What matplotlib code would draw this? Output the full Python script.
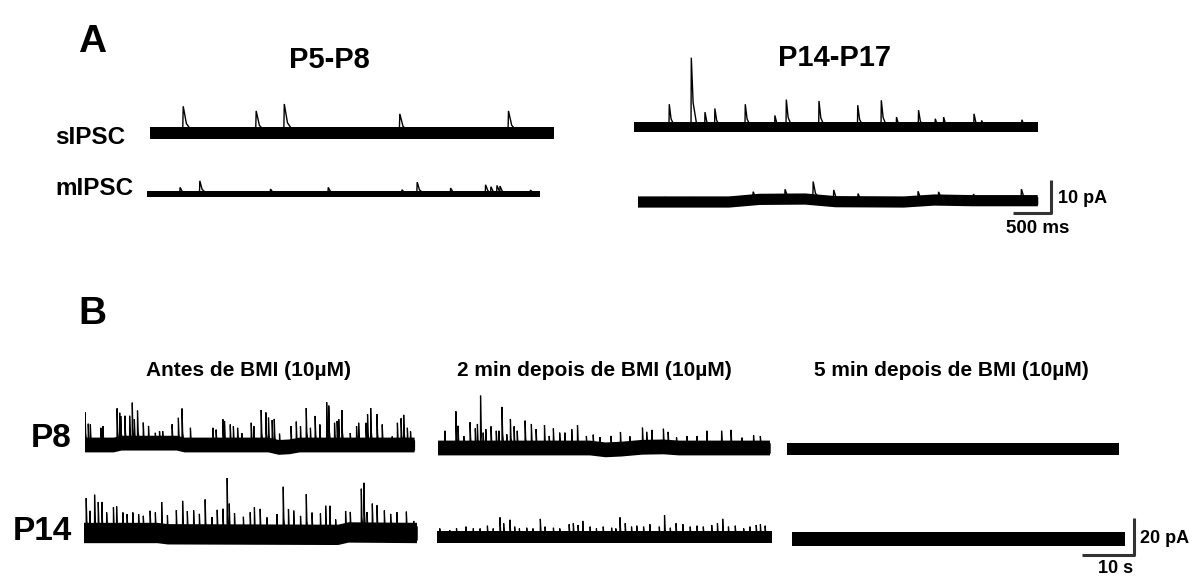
import matplotlib.pyplot as plt
import numpy as np

plt.rcParams['font.family'] = ['Liberation Sans', 'DejaVu Sans']
plt.rcParams['font.weight'] = 'bold'
plt.rcParams['hatch.linewidth'] = 1.0
plt.rcParams['hatch.color'] = 'black'

W, H = 1195, 583

# ---- Panel A: events as (time s, amplitude pA) ----
a_s_p5 = [(0.43, 8.1), (1.39, 6.7), (1.76, 8.8), (3.28, 5.8), (4.71, 6.7)]
a_m_p5 = [(0.43, 2.0), (0.69, 4.0), (1.62, 1.5), (2.38, 2.0), (3.35, 1.3), (3.55, 3.6),
          (3.99, 1.8), (4.45, 2.8), (4.52, 2.2), (4.60, 2.6), (4.64, 2.4), (5.04, 1.2)]
a_s_p14 = [(0.46, 6.9), (0.75, 21.0), (0.93, 4.5), (1.06, 5.6), (1.46, 6.9), (1.85, 3.5),
           (2.00, 8.3), (2.43, 7.9), (2.94, 6.6), (3.25, 8.1), (3.45, 3.0), (3.74, 5.1),
           (3.96, 2.5), (4.07, 3.0), (4.47, 4.0), (4.57, 2.0), (5.10, 2.2)]
a_m_p14 = [(0.35, 1.5), (0.70, 1.5), (0.95, 1.4), (1.20, 1.5), (1.51, 2.5), (1.93, 3.0),
           (2.30, 5.5), (2.57, 3.5), (2.89, 2.5), (3.68, 3.0), (3.95, 2.5), (4.41, 2.0),
           (5.04, 3.5)]

# baseline drift (time s, offset pA)
a_m_p14_drift_t = [0, 1.2, 1.6, 2.2, 2.6, 3.5, 3.9, 4.4, 5.26]
a_m_p14_drift_v = [0, 0, 0.8, 0.9, 0.1, 0, 0.6, 0.4, 0.4]

# ---- Panel B ----
b_p8_pre = [(0.0, 17.6), (0.6, 11.5), (1.0, 11.1), (3.0, 9.3), (3.4, 10.2), (6.1, 19.4),
            (6.6, 16.7), (6.8, 14.8), (7.6, 14.8), (8.5, 14.8), (9.0, 21.9), (9.4, 13.0),
            (10.0, 17.6), (11.1, 11.1), (12.1, 9.3), (13.4, 5.6), (14.2, 6.5), (14.8, 6.5),
            (16.6, 10.2), (17.8, 13.9), (18.5, 19.4), (20.1, 9.3), (24.4, 9.3), (25.0, 8.3),
            (26.3, 13.9), (26.6, 13.0), (27.7, 11.1), (28.3, 10.2), (29.1, 9.3), (29.9, 6.5),
            (31.7, 12.0), (32.2, 10.2), (33.6, 18.9), (34.5, 17.6), (35.0, 14.8), (35.7, 13.9),
            (36.1, 14.8), (37.1, 7.4), (39.3, 11.1), (40.3, 13.0), (41.1, 10.2), (42.2, 20.0),
            (43.0, 9.3), (43.9, 15.7), (44.8, 11.1), (46.1, 23.1), (46.5, 21.3), (47.6, 12.0),
            (48.1, 13.0), (48.4, 13.9), (49.0, 18.9), (50.6, 6.5), (51.8, 10.2), (52.2, 12.0),
            (53.6, 12.0), (53.9, 16.7), (54.5, 20.0), (55.7, 16.7), (56.7, 11.1), (58.6, 4.6),
            (59.6, 12.0), (60.3, 14.4), (60.8, 16.3), (61.5, 9.3), (62.1, 7.4)]
b_p8_pre_drift_t = [0, 5.5, 7.0, 17.5, 19.0, 35.0, 37.0, 39.0, 41.0, 62.9]
b_p8_pre_drift_v = [0, 0, 1.0, 1.0, 0, 0, -1.3, -1.0, 0, 0]

b_p14_pre = [(0.4, 18.9), (1.1, 12.0), (2.0, 20.7), (2.7, 16.7), (3.4, 16.7), (4.3, 11.1),
             (5.6, 13.9), (6.2, 14.4), (7.4, 11.1), (8.2, 10.2), (9.3, 11.1), (10.4, 10.2),
             (11.3, 9.3), (12.6, 12.0), (13.6, 11.1), (14.8, 17.0), (15.9, 10.2), (17.6, 13.0),
             (18.8, 18.1), (19.7, 12.6), (20.9, 13.0), (22.0, 11.1), (23.1, 18.9), (24.4, 9.3),
             (25.4, 13.3), (26.5, 13.9), (27.3, 31.5), (27.7, 16.7), (28.7, 11.5), (30.4, 9.6),
             (31.7, 12.0), (32.5, 14.8), (33.6, 13.9), (34.9, 9.3), (36.8, 11.1), (38.0, 25.9),
             (39.0, 13.9), (40.0, 13.0), (41.3, 10.2), (42.4, 21.9), (43.5, 12.0), (45.1, 11.5),
             (46.1, 15.7), (46.9, 15.7), (48.0, 8.3), (49.9, 12.0), (50.8, 11.1), (52.9, 23.7),
             (53.4, 26.9), (54.0, 11.1), (55.0, 15.7), (55.9, 14.8), (57.3, 12.0), (58.5, 10.2),
             (59.7, 11.1), (61.5, 11.5), (62.9, 6.5)]
b_p14_pre_drift_t = [0, 14.0, 16.0, 48.5, 50.5, 63.6]
b_p14_pre_drift_v = [0, 0, -0.7, -1.0, 0.3, 0]

b_p8_2min = [(1.3, 9.3), (3.4, 19.8), (3.8, 12.0), (4.9, 6.5), (6.1, 13.9), (7.1, 10.6),
             (7.5, 13.0), (8.1, 28.3), (8.6, 8.3), (9.1, 10.2), (10.1, 11.7), (11.1, 9.3),
             (11.6, 9.3), (12.2, 22.2), (13.1, 7.4), (13.8, 15.7), (14.5, 11.7), (15.1, 9.3),
             (16.6, 14.8), (17.8, 13.0), (18.7, 10.2), (20.3, 12.4), (21.2, 6.5), (22.0, 10.6),
             (23.2, 8.3), (24.2, 8.3), (25.5, 10.2), (26.6, 12.4), (28.3, 6.5), (29.6, 7.4),
             (30.9, 6.5), (33.0, 7.4), (34.8, 9.3), (36.6, 6.5), (39.0, 10.6), (39.8, 8.3),
             (40.8, 9.3), (43.0, 9.8), (43.9, 8.3), (45.5, 5.6), (47.5, 6.5), (49.4, 6.5),
             (51.3, 9.3), (54.1, 9.3), (55.9, 9.8), (58.0, 5.6), (60.2, 6.9), (61.5, 6.5)]
b_p8_2min_drift_t = [0, 29.0, 32.0, 35.0, 39.0, 43.0, 46.0, 63.4]
b_p8_2min_drift_v = [0, 0, -1.0, -0.6, 0.4, 0.6, 0, 0]

b_p14_2min = [(0.5, 4.6), (2.4, 3.7), (3.7, 4.6), (5.5, 5.6), (6.9, 4.6), (8.2, 4.6),
              (9.6, 6.1), (10.7, 4.6), (12.0, 10.6), (12.7, 7.4), (13.9, 9.3), (14.8, 5.6),
              (15.7, 4.6), (17.1, 5.0), (18.3, 4.6), (19.7, 9.8), (20.6, 5.6), (22.2, 5.0),
              (23.4, 4.6), (25.2, 6.9), (26.0, 7.4), (26.9, 6.5), (27.8, 8.7), (29.2, 5.6),
              (30.4, 4.6), (31.7, 5.6), (33.3, 5.0), (34.1, 4.6), (34.9, 10.6), (35.9, 7.4),
              (37.1, 5.6), (38.1, 6.1), (39.4, 5.6), (40.6, 6.9), (42.4, 5.6), (43.4, 11.7),
              (44.5, 5.0), (45.6, 7.4), (46.9, 6.9), (48.3, 5.6), (49.6, 6.1), (50.8, 5.6),
              (52.4, 6.5), (53.5, 7.4), (54.5, 9.8), (55.6, 5.6), (56.9, 6.1), (58.5, 4.6),
              (59.7, 5.6), (60.9, 6.5), (61.7, 6.9), (62.6, 6.1)]

b_p8_5min = [(14.0, 1.5), (27.0, 1.5), (33.0, 2.0), (45.0, 1.5)]
b_p14_5min = [(12.0, 2.0), (24.0, 1.5), (29.0, 2.5), (41.0, 2.0), (51.0, 1.5)]

A_PX_S, A_PX_PA = 76.0, 3.3      # pixels per second / per pA, panel A
B_PX_S, B_PX_PA = 5.24, 1.85     # panel B

fig = plt.figure(figsize=(W / 100, H / 100), dpi=100)


def trace_ax(left, base, dur, px_s, px_pa, top=30, bot=10):
    # axes laid out in figure pixels, data in seconds / pA
    w = dur * px_s
    h = (top + bot) * px_pa
    ax = fig.add_axes([left / W, 1 - (base + bot * px_pa) / H, w / W, h / H])
    ax.set_xlim(0, dur)
    ax.set_ylim(-bot, top)
    ax.axis('off')
    return ax


def draw_trace(ax, dur, noise, events, decay, drift_t=None, drift_v=None, lw=0.8):
    if drift_t is None:
        drift_t, drift_v = [0, dur], [0, 0]
    dt = np.array(drift_t, dtype=float)
    dv = np.array(drift_v, dtype=float)
    # solid core of the noise band, hatched edges
    ax.fill_between(dt, dv - noise * 0.7, dv + noise * 0.7, color='black', lw=0)
    ax.fill_between(dt, dv - noise, dv + noise, facecolor='none', edgecolor='black',
                    hatch='|' * 12, lw=0)
    for t, amp in events:
        b = np.interp(t, dt, dv)
        xs = [t, t + decay * 0.05, t + decay * 0.35, t + decay]
        ys = [b, b + amp, b + amp * 0.35, b]
        ax.plot(xs, ys, color='black', lw=lw, solid_joinstyle='miter')


def scale_bar(right, bottom, t_len, amp, px_s, px_pa):
    w = t_len * px_s
    h = amp * px_pa
    ax = fig.add_axes([(right - w) / W, 1 - bottom / H, w / W, h / H])
    ax.set_xlim(0, t_len)
    ax.set_ylim(0, amp)
    ax.plot([0, t_len, t_len], [0, 0, amp], color='#333333', lw=2.2,
            solid_capstyle='butt', clip_on=False)
    ax.axis('off')


def label(x, y, s, size, ha='center'):
    fig.text(x / W, 1 - y / H, s, fontsize=size, fontweight='bold', ha=ha, va='baseline')


# Panel A traces
ax = trace_ax(150, 133, 5.31, A_PX_S, A_PX_PA)
draw_trace(ax, 5.31, 1.7, a_s_p5, 0.14, lw=1.0)
ax = trace_ax(147, 194, 5.17, A_PX_S, A_PX_PA)
draw_trace(ax, 5.17, 1.0, a_m_p5, 0.10, lw=1.0)
ax = trace_ax(634, 127, 5.31, A_PX_S, A_PX_PA)
draw_trace(ax, 5.31, 1.6, a_s_p14, 0.08, lw=1.0)
ax = trace_ax(638, 202, 5.26, A_PX_S, A_PX_PA)
draw_trace(ax, 5.26, 1.7, a_m_p14, 0.10, a_m_p14_drift_t, a_m_p14_drift_v, lw=1.0)
scale_bar(1051, 213, 0.5, 10, A_PX_S, A_PX_PA)

# Panel B traces
ax = trace_ax(85, 445, 62.9, B_PX_S, B_PX_PA)
draw_trace(ax, 62.9, 4.0, b_p8_pre, 0.4, b_p8_pre_drift_t, b_p8_pre_drift_v, lw=0.9)
ax = trace_ax(84, 533, 63.6, B_PX_S, B_PX_PA)
draw_trace(ax, 63.6, 5.5, b_p14_pre, 0.4, b_p14_pre_drift_t, b_p14_pre_drift_v, lw=0.9)
ax = trace_ax(438, 448, 63.4, B_PX_S, B_PX_PA)
draw_trace(ax, 63.4, 4.0, b_p8_2min, 0.4, b_p8_2min_drift_t, b_p8_2min_drift_v, lw=0.9)
ax = trace_ax(437, 537, 63.9, B_PX_S, B_PX_PA)
draw_trace(ax, 63.9, 3.5, b_p14_2min, 0.4, lw=0.9)
ax = trace_ax(787, 449, 63.4, B_PX_S, B_PX_PA)
draw_trace(ax, 63.4, 3.2, b_p8_5min, 0.6, lw=0.9)
ax = trace_ax(792, 539, 63.6, B_PX_S, B_PX_PA)
draw_trace(ax, 63.6, 4.0, b_p14_5min, 0.6, lw=0.9)
scale_bar(1134, 555, 10, 20, B_PX_S, B_PX_PA)

# Text
label(92, 52, 'A', 28)
label(329, 68, 'P5-P8', 21)
label(834, 66, 'P14-P17', 21)
label(55, 144, 'sIPSC', 17.5, ha='left')
label(55, 195, 'mIPSC', 17.5, ha='left')
label(1058, 203, '10 pA', 13, ha='left')
label(1038, 233, '500 ms', 13.5)

label(92, 324, 'B', 28)
label(248, 376, 'Antes de BMI (10µM)', 15)
label(594, 376, '2 min depois de BMI (10µM)', 15)
label(951, 376, '5 min depois de BMI (10µM)', 15)
label(51, 447, 'P8', 24)
label(42, 540, 'P14', 24)
label(1140, 543, '20 pA', 13, ha='left')
label(1116, 573, '10 s', 13)

fig.savefig('out.png', dpi=100)
